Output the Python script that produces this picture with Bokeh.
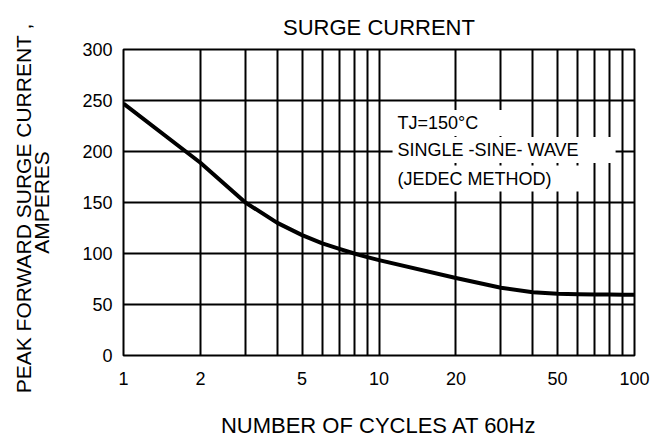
from bokeh.plotting import figure
from bokeh.models import FixedTicker, Label, Range1d, PrintfTickFormatter
from bokeh.embed import file_html
from bokeh.resources import INLINE

# ---- data ----
cycles = [1, 2, 3, 4, 5, 6, 7, 8, 9, 10, 20, 30, 40, 50, 60, 70, 80, 90, 100]
surge_current = [247, 189, 150, 130, 118, 110, 104.5, 100, 96.5, 93.5,
                 76, 66.5, 62, 60.5, 60, 59.8, 59.7, 59.6, 59.6]
x_tick_values = [1, 2, 5, 10, 20, 50, 100]
x_grid_values = [2, 3, 4, 5, 6, 7, 8, 9, 10, 20, 30, 40, 50, 60, 70, 80, 90]
y_tick_values = [0, 50, 100, 150, 200, 250, 300]
y_grid_values = [50, 100, 150, 200, 250]
notes = ["TJ=150°C", "SINGLE -SINE- WAVE", "(JEDEC METHOD)"]
note_y = [228, 201.5, 173.5]
note_x = 11.3

FONT = "Liberation Sans"

p = figure(width=666, height=440, x_axis_type="log",
           x_range=Range1d(1, 100), y_range=Range1d(0, 300),
           output_backend="svg", toolbar_location=None,
           title="SURGE CURRENT",
           min_border_left=123, min_border_right=32,
           min_border_top=49, min_border_bottom=83)

p.background_fill_color = "white"
p.border_fill_color = "white"
p.outline_line_color = "black"
p.outline_line_width = 2

p.title.align = "center"
p.title.vertical_align = "top"
p.title.offset = -8
p.title.standoff = 16
p.title.text_font = FONT
p.title.text_font_size = "22px"
p.title.text_font_style = "normal"
p.title.text_color = "black"

# axes
for ax in (p.xaxis[0], p.yaxis[0]):
    ax.axis_line_color = None
    ax.major_tick_line_color = None
    ax.minor_tick_line_color = None
    ax.major_tick_in = 0
    ax.major_tick_out = 0
    ax.minor_tick_in = 0
    ax.minor_tick_out = 0
    ax.major_label_text_font = FONT
    ax.major_label_text_font_size = "18px"
    ax.major_label_text_color = "black"
    ax.axis_label_text_font = FONT
    ax.axis_label_text_font_style = "normal"
    ax.axis_label_text_color = "black"

p.xaxis.ticker = FixedTicker(ticks=x_tick_values)
p.xaxis.formatter = PrintfTickFormatter(format="%d")
p.xaxis.major_label_standoff = 16
p.xaxis.axis_label = "NUMBER OF CYCLES AT 60Hz"
p.xaxis.axis_label_text_font_size = "22px"
p.xaxis.axis_label_standoff = 25

p.yaxis.ticker = FixedTicker(ticks=y_tick_values)
p.yaxis.major_label_standoff = 11
p.yaxis.axis_label = "PEAK  FORWARD  SURGE CURRENT ,\nAMPERES"
p.yaxis.axis_label_text_font_size = "21px"
p.yaxis.axis_label_standoff = 26
p.yaxis.axis_label_text_line_height = 0.82

# grid
p.xgrid.ticker = FixedTicker(ticks=x_grid_values)
p.ygrid.ticker = FixedTicker(ticks=y_grid_values)
for g in (p.xgrid[0], p.ygrid[0]):
    g.grid_line_color = "black"
    g.grid_line_width = 2
    g.grid_line_alpha = 1.0

p.line(cycles, surge_current, line_width=4, line_color="black",
       line_join="round")

for t, yv in zip(notes, note_y):
    p.add_layout(Label(x=note_x, y=yv, text=t, text_font=FONT,
                       text_font_size="18px", text_color="black",
                       text_baseline="middle",
                       background_fill_color="white",
                       padding=dict(left=5, right=37, top=3, bottom=3)))

open("out.html", "w").write(file_html(p, INLINE))
